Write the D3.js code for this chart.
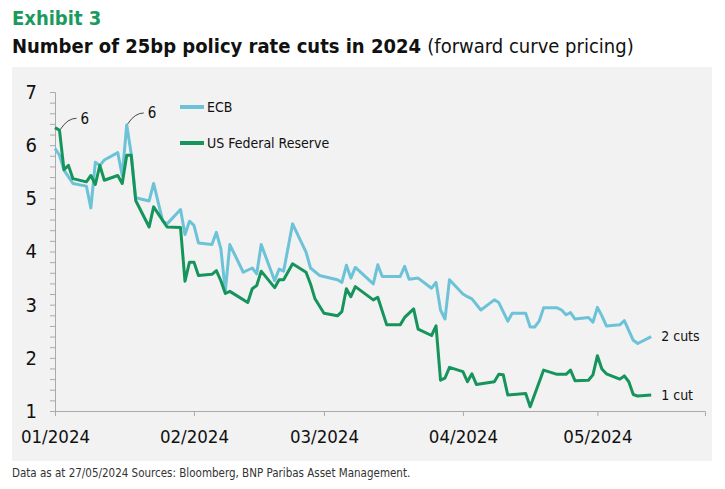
<!DOCTYPE html>
<html>
<head>
<meta charset="utf-8">
<script src="https://cdn.jsdelivr.net/npm/d3@7"></script>
<style>
  body { margin: 0; background: #fff; }
  svg text { font-family: "Liberation Sans Narrow", "DejaVu Sans Condensed", "Roboto Condensed", sans-serif; }
</style>
</head>
<body>
<svg id="svg" width="725" height="489"></svg>
<script>
// forward curve pricing, number of 25bp cuts
const ecbDates = ['2024-01-01','2024-01-02','2024-01-03','2024-01-05','2024-01-08','2024-01-09','2024-01-10','2024-01-11','2024-01-12','2024-01-15',
  '2024-01-16','2024-01-17','2024-01-18','2024-01-19','2024-01-22','2024-01-23','2024-01-25','2024-01-26','2024-01-29','2024-01-30',
  '2024-01-31','2024-02-01','2024-02-02','2024-02-05','2024-02-06','2024-02-07','2024-02-08','2024-02-09','2024-02-12','2024-02-14',
  '2024-02-15','2024-02-16','2024-02-19','2024-02-20','2024-02-21','2024-02-23','2024-02-26','2024-02-27','2024-02-29','2024-03-04',
  '2024-03-05','2024-03-06','2024-03-07','2024-03-08','2024-03-12','2024-03-13','2024-03-14','2024-03-18','2024-03-19','2024-03-20',
  '2024-03-22','2024-03-25','2024-03-26','2024-03-27','2024-03-28','2024-03-29','2024-04-01','2024-04-02','2024-04-03','2024-04-05',
  '2024-04-08','2024-04-09','2024-04-11','2024-04-12','2024-04-15','2024-04-16','2024-04-17','2024-04-18','2024-04-19','2024-04-22',
  '2024-04-23','2024-04-24','2024-04-25','2024-04-26','2024-04-29','2024-04-30','2024-05-01','2024-05-02','2024-05-03','2024-05-06',
  '2024-05-07','2024-05-09','2024-05-10','2024-05-13']
const ecbValues = [5.94, 5.81, 5.53, 5.28, 5.23, 4.82, 5.68, 5.62, 5.72, 5.86,
  5.43, 6.38, 5.84, 5.01, 4.95, 5.28, 4.58, 4.52, 4.79, 4.32,
  4.57, 4.49, 4.16, 4.13, 4.36, 4.05, 3.26, 4.13, 3.61, 3.69,
  3.58, 4.13, 3.45, 3.67, 3.63, 4.52, 3.99, 3.69, 3.55, 3.47,
  3.42, 3.74, 3.50, 3.70, 3.39, 3.75, 3.53, 3.53, 3.72, 3.48,
  3.50, 3.31, 3.42, 2.90, 2.73, 3.47, 3.20, 3.15, 3.11, 2.90,
  3.09, 3.04, 2.69, 2.84, 2.84, 2.58, 2.58, 2.69, 2.94, 2.94,
  2.90, 2.81, 2.85, 2.73, 2.76, 2.67, 2.95, 2.79, 2.60, 2.62,
  2.70, 2.33, 2.27, 2.40]

const fedDates = ['2024-01-01','2024-01-02','2024-01-03','2024-01-04','2024-01-05','2024-01-08','2024-01-09','2024-01-10','2024-01-11','2024-01-12',
  '2024-01-15','2024-01-16','2024-01-17','2024-01-18','2024-01-19','2024-01-22','2024-01-23','2024-01-26','2024-01-29','2024-01-30',
  '2024-01-31','2024-02-01','2024-02-02','2024-02-05','2024-02-06','2024-02-07','2024-02-08','2024-02-09','2024-02-13','2024-02-14',
  '2024-02-15','2024-02-16','2024-02-19','2024-02-20','2024-02-21','2024-02-23','2024-02-26','2024-02-27','2024-02-28','2024-03-01',
  '2024-03-04','2024-03-05','2024-03-06','2024-03-07','2024-03-08','2024-03-12','2024-03-13','2024-03-15','2024-03-18','2024-03-19',
  '2024-03-21','2024-03-22','2024-03-25','2024-03-26','2024-03-27','2024-03-28','2024-03-29','2024-04-01','2024-04-02','2024-04-03',
  '2024-04-04','2024-04-08','2024-04-09','2024-04-10','2024-04-11','2024-04-15','2024-04-16','2024-04-19','2024-04-22','2024-04-24',
  '2024-04-25','2024-04-26','2024-04-29','2024-04-30','2024-05-01','2024-05-02','2024-05-03','2024-05-06','2024-05-07','2024-05-08',
  '2024-05-09','2024-05-10','2024-05-13']
const fedValues = [6.33, 6.28, 5.54, 5.62, 5.37, 5.31, 5.43, 5.26, 5.62, 5.34,
  5.43, 5.28, 5.81, 5.81, 4.96, 4.46, 4.84, 4.46, 4.45, 3.44,
  3.80, 3.80, 3.55, 3.57, 3.64, 3.45, 3.21, 3.25, 3.04, 3.30,
  3.36, 3.63, 3.32, 3.47, 3.47, 3.77, 3.61, 3.39, 3.11, 2.84,
  2.79, 2.87, 3.30, 3.15, 3.34, 3.09, 3.14, 2.62, 2.62, 2.76,
  2.92, 2.54, 2.42, 2.60, 1.58, 1.62, 1.82, 1.74, 1.55, 1.70,
  1.50, 1.55, 1.69, 1.68, 1.30, 1.33, 1.08, 1.77, 1.69, 1.69,
  1.77, 1.57, 1.58, 1.68, 2.04, 1.79, 1.70, 1.60, 1.66, 1.55,
  1.31, 1.28, 1.30]

const monthTicks = ['2024-01-01', '2024-02-01', '2024-03-01', '2024-04-01', '2024-05-01']
const seriesNames = ['ECB', 'US Federal Reserve']
const endLabels = ['2 cuts', '1 cut']
const peakLabels = ['6', '6']

const ecbColor = '#6cc3d8'
const fedColor = '#15945c'

let parse = d3.timeParse('%Y-%m-%d')
let ecb = ecbDates.map((d, i) => ({ date: parse(d), value: ecbValues[i] }))
let fed = fedDates.map((d, i) => ({ date: parse(d), value: fedValues[i] }))

let svg = d3.select('#svg')

// header
svg.append('text').attr('x', 12).attr('y', 25)
  .attr('fill', '#1b9a5e').attr('font-size', 20).attr('font-weight', 'bold')
  .text('Exhibit 3')
let title = svg.append('text').attr('x', 12).attr('y', 53)
  .attr('fill', '#111').attr('font-size', 20)
title.append('tspan').attr('font-weight', 'bold').text('Number of 25bp policy rate cuts in 2024 ')
title.append('tspan').text('(forward curve pricing)')

// grey panel
svg.append('rect').attr('x', 12).attr('y', 67).attr('width', 700).attr('height', 394)
  .attr('fill', '#f2f2f2')

let x = d3.scaleTime()
  .domain([parse('2024-01-01'), parse('2024-05-25')])
  .range([55, 705])

let y = d3.scaleLinear()
  .domain([1, 7])
  .range([411, 92])

// y axis with minor ticks every 0.2
let yAxis = d3.axisLeft(y)
  .tickValues(d3.range(10, 71, 2).map(v => v / 10))
  .tickSize(5)
  .tickPadding(13)
  .tickFormat(d => Number.isInteger(d) ? d : '')
let gy = svg.append('g').attr('transform', 'translate(55,0)').call(yAxis)
gy.select('.domain').attr('stroke', '#aaa')
gy.selectAll('.tick line').attr('stroke', '#aaa')
gy.selectAll('.tick text').attr('font-size', 20).attr('fill', '#111')

let xAxis = d3.axisBottom(x)
  .tickValues(monthTicks.map(parse))
  .tickSize(5)
  .tickPadding(14)
  .tickFormat(d3.timeFormat('%m/%Y'))
let gx = svg.append('g').attr('transform', 'translate(0,411)').call(xAxis)
gx.select('.domain').attr('stroke', '#aaa')
gx.selectAll('.tick line').attr('stroke', '#aaa')
gx.selectAll('.tick text').attr('font-size', 18.5).attr('fill', '#111')

let line = d3.line()
  .x(d => x(d.date))
  .y(d => y(d.value))

svg.append('path').datum(ecb)
  .attr('d', line)
  .attr('fill', 'none')
  .attr('stroke', ecbColor)
  .attr('stroke-width', 3)
  .attr('stroke-linejoin', 'round')

svg.append('path').datum(fed)
  .attr('d', line)
  .attr('fill', 'none')
  .attr('stroke', fedColor)
  .attr('stroke-width', 3)
  .attr('stroke-linejoin', 'round')

// legend
let legend = svg.append('g')
seriesNames.forEach((name, i) => {
  let ly = 107 + i * 36
  legend.append('line').attr('x1', 180).attr('x2', 204).attr('y1', ly).attr('y2', ly)
    .attr('stroke', i === 0 ? ecbColor : fedColor).attr('stroke-width', 4)
  legend.append('text').attr('x', 207).attr('y', ly).attr('dy', '0.35em')
    .attr('font-size', 14).attr('fill', '#111').text(name)
})

// end labels
let lasts = [ecb[ecb.length - 1], fed[fed.length - 1]]
lasts.forEach((d, i) => {
  svg.append('text').attr('x', x(d.date) + 10).attr('y', y(d.value)).attr('dy', '0.35em')
    .attr('font-size', 14).attr('fill', '#111').text(endLabels[i])
})

// peak callouts
let peaks = [fed[1], ecb[11]]
peaks.forEach((d, i) => {
  let px = x(d.date)
  let py = y(d.value)
  let p = d3.path()
  p.moveTo(px + 1, py - 1)
  p.quadraticCurveTo(px + 8, py - 12, px + 17, py - 12)
  svg.append('path').attr('d', p.toString())
    .attr('fill', 'none').attr('stroke', '#333').attr('stroke-width', 0.9)
  svg.append('text').attr('x', px + 21).attr('y', py - 12).attr('dy', '0.35em')
    .attr('font-size', 15).attr('fill', '#111').text(peakLabels[i])
})

// footer
svg.append('text').attr('x', 12).attr('y', 477)
  .attr('font-size', 11.5).attr('fill', '#333')
  .text('Data as at 27/05/2024 Sources: Bloomberg, BNP Paribas Asset Management.')
</script>
</body>
</html>
